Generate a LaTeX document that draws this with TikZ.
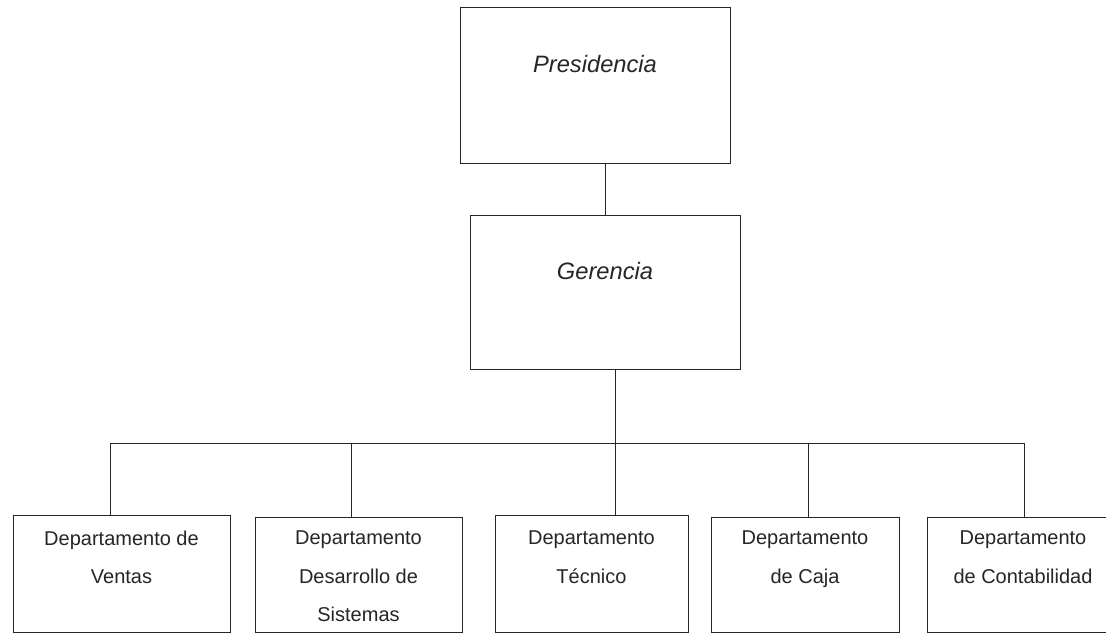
\documentclass[tikz,border=0pt]{standalone}
\usepackage{fontspec}
\setmainfont{Liberation Sans}
\begin{document}
\begin{tikzpicture}[x=1pt,y=-1pt,
  box/.style={draw=black!85, line width=1pt, inner sep=0pt, outer sep=0pt, rectangle},
  conn/.style={draw=black!85, line width=1pt},
  dtext/.style={anchor=north, inner sep=0pt, align=center, text=black!85, font=\fontsize{20}{38.5}\selectfont},
  ttext/.style={anchor=base, inner sep=0pt, text=black!85, font=\fontsize{23.7}{28}\selectfont\itshape}]
\useasboundingbox (0,0) rectangle (1106,634);
\fill[white] (0,0) rectangle (1106,634);
\clip (0,0) rectangle (1106,634);
% boxes
\node[box, minimum width=270pt, minimum height=155pt] (pres) at (595,85.5) {};
\node[box, minimum width=270pt, minimum height=154pt] (ger) at (605,292) {};
\node[box, minimum width=217pt, minimum height=117pt] (d1) at (121.5,573.5) {};
\node[box, minimum width=207pt, minimum height=115pt] (d2) at (358.5,574.5) {};
\node[box, minimum width=193pt, minimum height=117pt] (d3) at (591.5,573.5) {};
\node[box, minimum width=188pt, minimum height=115pt] (d4) at (805,574.5) {};
\node[box, minimum width=192pt, minimum height=115pt] (d5) at (1023,574.5) {};
% texts
\node[ttext] (tp) at (595,73) {Presidencia};
\node[ttext] (tg) at (605,279) {Gerencia};
\node[dtext] (t1) at (121.5,530.6) {Departamento de\\Ventas};
\node[dtext] (t2) at (358.5,530.6) {Departamento\\Desarrollo de\\Sistemas};
\node[dtext] (t3) at (591.5,530.6) {Departamento\\Técnico};
\node[dtext] (t4) at (805,530.6) {Departamento\\de Caja};
\node[dtext] (t5) at (1023,530.6) {Departamento\\de Contabilidad};
% connectors
\coordinate (gb) at ([xshift=10pt]ger.south);
\coordinate (busL) at (110,443);
\coordinate (b2) at (351,443);
\coordinate (b4) at (808,443);
\coordinate (busR) at (1024,443);
\draw[conn] (ger.north) -- (ger.north |- pres.south);
\draw[conn] (gb) -- (gb |- d3.north);
\draw[conn] (busL) -- (busR);
\draw[conn] (busL) -- (busL |- d1.north);
\draw[conn] (b2) -- (b2 |- d2.north);
\draw[conn] (b4) -- (b4 |- d4.north);
\draw[conn] (busR) -- (busR |- d5.north);
\end{tikzpicture}
\end{document}
